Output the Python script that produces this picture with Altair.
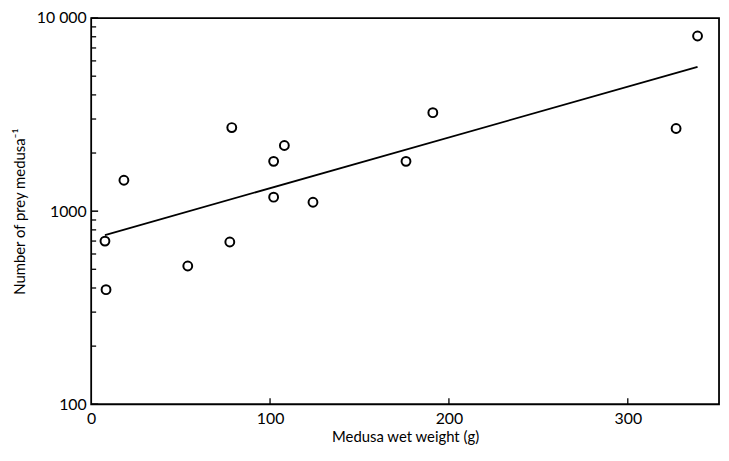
import altair as alt
import pandas as pd

# Data
weight = [7.7, 8.3, 18.3, 54, 77.5, 78.6, 102, 102, 108, 124, 176, 191, 327, 339]
prey = [700, 392, 1445, 520, 692, 2710, 1811, 1181, 2188, 1112, 1811, 3235, 2680, 8070]
fit_weight = [7.7, 339]
fit_prey = [752, 5585]
major_y = [100, 1000, 10000]
minor_y = [200, 300, 400, 500, 600, 700, 800, 900,
           2000, 3000, 4000, 5000, 6000, 7000, 8000, 9000]
x_ticks = [100, 200, 300]
x_labels = [0, 100, 200, 300]

FONT = "Lato"
W, H = 634, 390

pts = pd.DataFrame({"w": weight, "p": prey})
fit = pd.DataFrame({"w": fit_weight, "p": fit_prey})
ymaj = pd.DataFrame({"p": major_y})
ymin = pd.DataFrame({"p": minor_y})
xt = pd.DataFrame({"w": x_ticks})

xscale = alt.Scale(domain=[0, 351], nice=False, zero=False)
yscale = alt.Scale(type="log", domain=[100, 10000], nice=False)

xaxis = alt.Axis(values=x_labels, ticks=False, domain=False, grid=False,
                 labelFont=FONT, labelFontSize=16, labelColor="black",
                 labelPadding=6, titleFont=FONT, titleFontSize=15,
                 titleFontWeight="normal", titleColor="black", titlePadding=4,
                 labelFlush=False)
yaxis = alt.Axis(values=major_y, ticks=False, domain=False, grid=False,
                 labelExpr="datum.value == 10000 ? '10 000' : format(datum.value, 'd')",
                 labelFont=FONT, labelFontSize=16, labelColor="black",
                 labelPadding=5, titleFont=FONT, titleFontSize=15,
                 titleFontWeight="normal", titleColor="black", titlePadding=9)

points = alt.Chart(pts).mark_point(shape="circle", filled=False, color="black",
                                    strokeWidth=2, size=80, opacity=1).encode(
    x=alt.X("w:Q", scale=xscale, axis=xaxis, title="Medusa wet weight (g)"),
    y=alt.Y("p:Q", scale=yscale, axis=yaxis, title="Number of prey medusa⁻¹"),
)

line = alt.Chart(fit).mark_line(color="black", strokeWidth=1.8).encode(
    x=alt.X("w:Q", scale=xscale),
    y=alt.Y("p:Q", scale=yscale),
)

ymajor_ticks = alt.Chart(ymaj).mark_rule(color="black", strokeWidth=1.5).encode(
    y=alt.Y("p:Q", scale=yscale),
    x=alt.value(0), x2=alt.value(7),
)
yminor_ticks = alt.Chart(ymin).mark_rule(color="black", strokeWidth=1.3).encode(
    y=alt.Y("p:Q", scale=yscale),
    x=alt.value(0), x2=alt.value(5),
)
x_tick_marks = alt.Chart(xt).mark_rule(color="black", strokeWidth=1.3).encode(
    x=alt.X("w:Q", scale=xscale),
    y=alt.value(H), y2=alt.value(H - 6),
)

chart = alt.layer(ymajor_ticks, yminor_ticks, x_tick_marks, line, points).properties(
    width=W, height=H,
    autosize=alt.AutoSizeParams(type="none"),
    padding={"left": 84, "top": 8, "right": 2, "bottom": 40},
    background="white",
).configure_view(stroke="black", strokeWidth=1.8)

chart.save("out.html", embed_options={"renderer": "svg", "actions": False})
